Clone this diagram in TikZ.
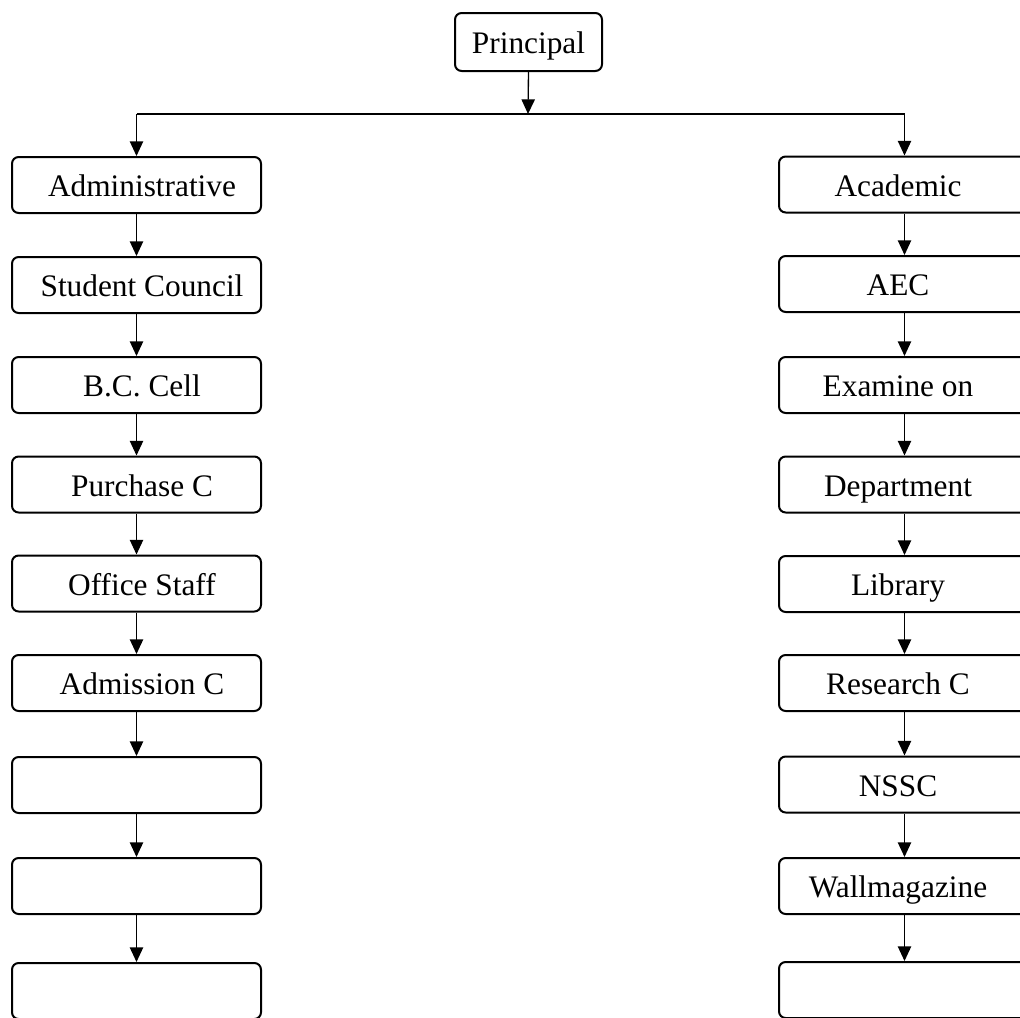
\documentclass[tikz,border=0pt]{standalone}
\usepackage{fontspec}
\setmainfont{Liberation Serif}
\usetikzlibrary{arrows.meta}
\begin{document}
\begin{tikzpicture}[x=0.75pt,y=-0.75pt,
  box/.style={draw, line width=1.5pt, rounded corners=5pt, minimum height=42pt,
    inner sep=0pt, font=\fontsize{23.5}{28}\selectfont, text height=17.4pt, text depth=0pt},
  lbox/.style={box, minimum width=186.75pt},
  rbox/.style={box, minimum width=188.25pt},
  arr/.style={line width=1pt, -{Triangle[length=11pt,width=10pt]}},
  bar/.style={line width=1.5pt},
]
\useasboundingbox (0,0) rectangle (1020,1017);
\clip (0,0) rectangle (1020,1017);
\newcommand{\lt}[1]{\hspace*{8.25pt}#1}
\newcommand{\rt}[1]{#1\hspace*{9.75pt}}

\node[box, minimum width=110.25pt, minimum height=43.5pt] (P) at (528.5,42) {Principal};
\coordinate (j) at (528,114);

% left column
\node[lbox] (L1) at (136.5,185) {\lt{Administrative}};
\node[lbox] (L2) at (136.5,285) {\lt{Student Council}};
\node[lbox] (L3) at (136.5,385) {\lt{B.C. Cell}};
\node[lbox] (L4) at (136.5,484.5) {\lt{Purchase C}};
\node[lbox] (L5) at (136.5,583.5) {\lt{Office Staff}};
\node[lbox] (L6) at (136.5,683) {\lt{Admission C}};
\node[lbox] (L7) at (136.5,785) {};
\node[lbox] (L8) at (136.5,886) {};
\node[lbox] (L9) at (136.5,991) {};

% right column
\node[rbox] (R1) at (904.5,184.5) {\rt{Academic}};
\node[rbox] (R2) at (904.5,284) {\rt{AEC}};
\node[rbox] (R3) at (904.5,385) {\rt{Examine on}};
\node[rbox] (R4) at (904.5,484.5) {\rt{Department}};
\node[rbox] (R5) at (904.5,584) {\rt{Library}};
\node[rbox] (R6) at (904.5,683) {\rt{Research C}};
\node[rbox] (R7) at (904.5,784.5) {\rt{NSSC}};
\node[rbox] (R8) at (904.5,886) {\rt{Wallmagazine}};
\node[rbox] (R9) at (904.5,990) {};

% connectors
\draw[arr] (P.south) -- (j);
\draw[bar] (L1.north |- j) -- (R1.north |- j);
\draw[arr] (L1.north |- j) -- (L1.north);
\draw[arr] (R1.north |- j) -- (R1.north);
\foreach \a/\b in {1/2,2/3,3/4,4/5,5/6,6/7,7/8,8/9}{
  \draw[arr] (L\a.south) -- (L\b.north);
  \draw[arr] (R\a.south) -- (R\b.north);
}
\end{tikzpicture}
\end{document}
